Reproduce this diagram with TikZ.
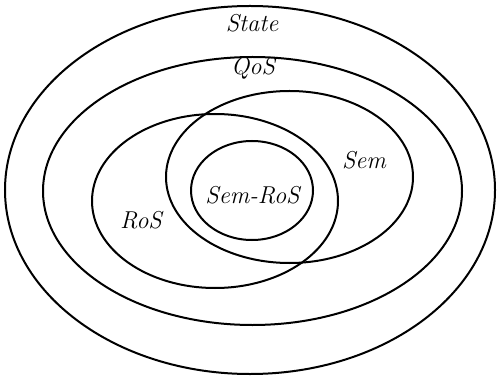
\documentclass[tikz,border=0pt]{standalone}
\usetikzlibrary{shapes.geometric}
\begin{document}
\begin{tikzpicture}[x=0.5pt,y=-0.5pt,
  setline/.style={line width=1pt},
  setlabel/.style={font=\fontsize{12.2}{14}\selectfont\itshape, inner sep=0pt}]
\useasboundingbox (0,0) rectangle (497,379);
\coordinate (cstate) at (250,190);
\coordinate (cqos) at (252.5,191);
\coordinate (cros) at (215,201);
\coordinate (csem) at (289.5,177);
\coordinate (csr) at (252,190.5);
\draw[setline] (cstate) ellipse [x radius=122.5pt, y radius=92pt];
\draw[setline] (cqos) ellipse [x radius=104.75pt, y radius=67pt];
\draw[setline] (cros) ellipse [x radius=61.5pt, y radius=43.5pt];
\draw[setline] (csem) ellipse [x radius=61.75pt, y radius=43pt];
\draw[setline] (csr) ellipse [x radius=30.5pt, y radius=24.75pt];
\node[setlabel] (lstate) at (252,23) {State};
\node[setlabel] (lqos) at (253,68) {QoS};
\node[setlabel] (lsem) at (364,160) {Sem};
\node[setlabel] (lros) at (141,220) {RoS};
\node[setlabel] (lsr) at (252.5,195) {Sem-RoS};
\end{tikzpicture}
\end{document}
